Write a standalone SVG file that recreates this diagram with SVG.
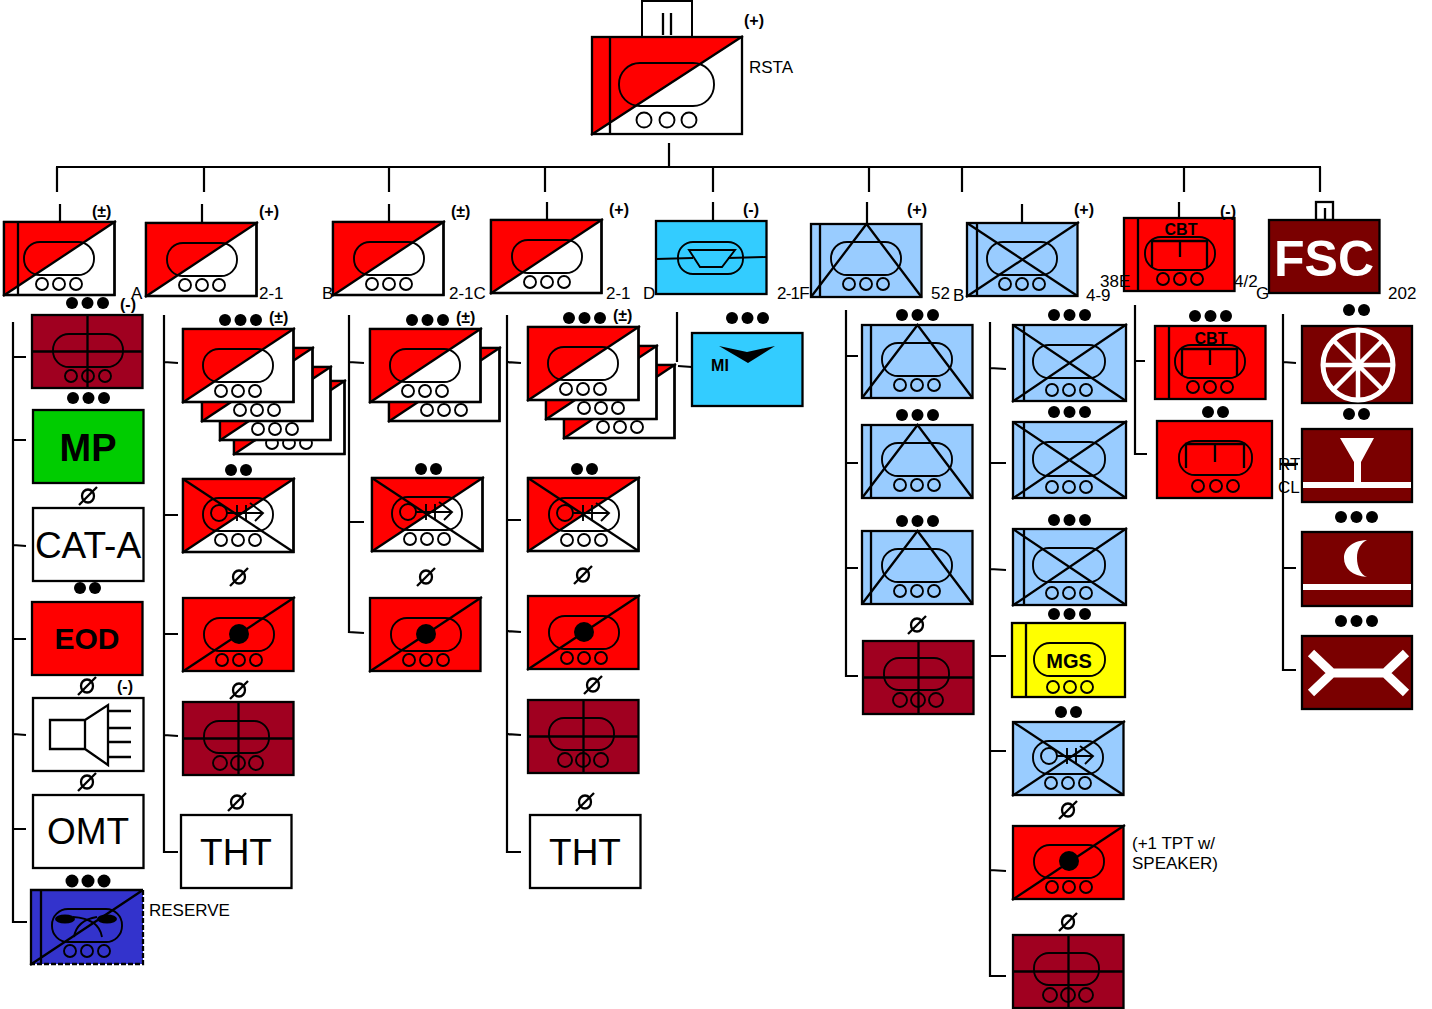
<svg xmlns="http://www.w3.org/2000/svg" width="1432" height="1009" viewBox="0 0 1432 1009">
<style>
text{font-family:"Liberation Sans",Arial,sans-serif;fill:#000}
.l{font-size:17px}
.m{font-size:16px;font-weight:bold}
.big{font-size:37px;text-anchor:middle}
.b{font-weight:bold;text-anchor:middle}
#con line,#con path{stroke:#000;stroke-width:2.200;fill:none}
.s{stroke:#000;stroke-width:2.300;fill:none}
.t{stroke:#000;stroke-width:1.900;fill:none}
.w{stroke:#fff;fill:none}
</style>
<defs>
<rect id="b" width="110.500" height="73" stroke="#000" stroke-width="2.300"/>
<line id="dg" class="s" x1="-1" y1="74" x2="112" y2="-1"/>
<line id="dg2" class="s" x1="0" y1="0" x2="110.500" y2="73"/>
<g id="rd"><use href="#b" fill="#fff"/><polygon points="0,73 0,0 110.500,0" fill="#f00"/><use href="#b" fill="none"/><use href="#dg"/></g>
<g id="rx"><use href="#rd"/><use href="#dg2"/></g>
<g id="rs"><use href="#b" fill="#f00"/><use href="#dg"/></g>
<g id="mt"><use href="#b" fill="#a00020"/><path class="s" d="M55.500,0V73M0,36.500H110.500"/></g>
<g id="lb"><use href="#b" fill="#9cf"/></g>
<g id="tr"><rect class="t" width="70" height="33" rx="16"/></g>
<g id="wh"><circle class="t" cx="18" cy="42" r="6"/><circle class="t" cx="35" cy="42" r="6"/><circle class="t" cx="52" cy="42" r="6"/></g>
<g id="tw"><use href="#tr"/><use href="#wh"/></g>
<g id="tb"><rect class="t" width="65" height="32" rx="15"/><circle class="t" cx="16" cy="42" r="7"/><circle class="t" cx="34" cy="42" r="7"/><circle class="t" cx="52" cy="42" r="7"/></g>
<g id="sc"><use href="#tw"/><circle class="t" cx="16" cy="15" r="8"/><path class="t" d="M24,15H59M34,7V23M43,7V23M47,5L60,15L52,23"/></g>
<g id="dot"><use href="#tw"/><circle cx="35" cy="16" r="10"/></g>
<g id="d3"><circle r="6"/><circle cx="15.500" r="6"/><circle cx="31" r="6"/></g>
<g id="d2"><circle r="6"/><circle cx="15" r="6"/></g>
<g id="n"><ellipse class="s" rx="6" ry="6.500"/><line class="s" x1="-9" y1="9" x2="9" y2="-9"/></g>
<g id="cb"><use href="#tw"/><path class="s" d="M7,31V4H62V31M35,4V20"/></g>
<g id="xl"><use href="#lb"/><use href="#dg"/><use href="#dg2"/></g>
<g id="tri"><use href="#lb"/><path class="s" d="M0,73L55.500,0L110.500,73"/></g>
<g id="xt"><rect class="s" width="113" height="76" style="fill:#9cf"/><path class="s" d="M-1,77L114,-1M0,0L113,76M11,0V76"/></g>
</defs>

<g id="con">
<line x1="669" y1="143" x2="669" y2="167"/>
<line x1="56" y1="167" x2="1321" y2="167"/>
<path d="M57,167V192M204,167V192M389,167V192M545,167V192M713,167V192M869,167V192M962,167V192M1184,167V192M1320,167V192"/>
<path d="M60,204V221M202,204V222M389,204V221M547,202V219M713,202V220M867,202V224M1022,204V222M1179,202V218"/>
<path d="M13,322V922H27M13,357H26M13,440H26M13,545L26,546M13,639H26M13,734L26,735M13,829H26"/>
<path d="M164,315V852H178M164,362L178,363M164,515H178M164,634H178M164,735L178,736"/>
<path d="M349,315V632L364,633M349,362L364,363M349,522H364"/>
<path d="M507,315V852H521M507,362L521,363M507,520H521M507,631L521,632M507,734L521,735"/>
<path d="M677,312V362M678,366L692,367"/>
<path d="M846,310V676H858M846,356H858M846,463H858M846,568H858"/>
<path d="M990,322V976H1006M990,368L1006,369M990,463H1006M990,569L1006,570M990,656H1006M990,751H1006M990,870L1006,871"/>
<path d="M1135,305V454H1147M1135,361H1145"/>
<path d="M1283,314V670H1296M1283,362L1296,363M1283,465H1296M1283,568H1296"/>
</g>

<g id="node-rsta">
<rect x="642" y="1" width="50" height="36" fill="#fff" stroke="#000" stroke-width="2"/>
<path class="s" d="M663,13V35M671,13V35"/>
<rect x="592" y="37" width="150" height="97" fill="#fff"/>
<polygon points="592,134 592,37 742,37" fill="#f00"/>
<rect class="s" x="592" y="37" width="150" height="97"/>
<path class="s" d="M591,135L743,36M610,37V134"/>
<rect class="t" x="619" y="63" width="95" height="43" rx="21"/>
<circle class="t" cx="644" cy="120" r="7.500"/><circle class="t" cx="667" cy="120" r="7.500"/><circle class="t" cx="689" cy="120" r="7.500"/>
<text class="m" x="744" y="26">(+)</text>
<text class="l" x="749" y="73">RSTA</text>
</g>

<g id="node-a">
<use href="#rd" x="4" y="222"/><line class="s" x1="18" y1="222" x2="18" y2="295"/>
<use href="#tw" x="24" y="242"/>
<text class="m" x="92" y="217">(±)</text>
<text class="l" x="131" y="299">A</text>
</g>
<g id="node-21a">
<use href="#rd" x="146" y="223"/><use href="#tw" x="167" y="243"/>
<text class="m" x="259" y="217">(+)</text>
<text class="l" x="259" y="299">2-1</text>
</g>
<g id="node-b">
<use href="#rd" x="333" y="222"/><use href="#tw" x="354" y="242"/>
<text class="m" x="451" y="217">(±)</text>
<text class="l" x="322" y="299">B</text>
<text class="l" x="449" y="299">2-1C</text>
</g>
<g id="node-21c">
<use href="#rd" x="491" y="220"/><use href="#tw" x="512" y="240"/>
<text class="m" x="609" y="215">(+)</text>
<text class="l" x="606" y="299">2-1</text>
<text class="l" x="643" y="299">D</text>
</g>
<g id="node-d">
<use href="#b" x="656" y="221" fill="#3cf"/>
<rect class="t" x="678" y="242" width="65" height="32" rx="15"/>
<path class="t" d="M656,259L693,258M728,258L766,257"/>
<polygon class="t" points="689,250 735,250 722,267 700,267"/>
<text class="m" x="743" y="215">(-)</text>
<text class="l" x="777" y="299" letter-spacing="-0.800">2-1F</text>
</g>
<g id="node-e">
<use href="#tri" x="811" y="224"/><line class="s" x1="820" y1="224" x2="820" y2="297"/>
<use href="#tw" x="831" y="242"/>
<text class="m" x="907" y="215">(+)</text>
<text class="l" x="931" y="299">52</text>
<text class="l" x="953" y="301">B</text>
</g>
<g id="node-f">
<use href="#xl" x="967" y="223"/><line class="s" x1="977" y1="223" x2="977" y2="296"/>
<use href="#tw" x="987" y="242"/>
<text class="m" x="1074" y="215">(+)</text>
<text class="l" x="1086" y="301">4-9</text>
</g>
<g id="node-g">
<use href="#b" x="1124" y="218" fill="#f00"/><line class="s" x1="1138" y1="218" x2="1138" y2="291"/>
<use href="#cb" x="1145" y="237"/>
<text class="b" x="1181" y="235" font-size="16">CBT</text>
<text class="m" x="1220" y="217">(-)</text>
<text class="l" x="1100" y="287">38E</text>
<text class="l" x="1234" y="287">4/2</text>
<text class="l" x="1256" y="299">G</text>
</g>
<g id="node-fsc">
<rect class="s" x="1316" y="202" width="17" height="18"/><line class="s" x1="1325" y1="208" x2="1325" y2="219"/>
<use href="#b" x="1269" y="220" fill="#7a0000"/>
<text class="b" x="1324" y="276" font-size="50" style="fill:#fff">FSC</text>
<text class="l" x="1388" y="299">202</text>
</g>

<g id="col-a">
<g id="a-maint"><use href="#mt" x="32" y="315"/><use href="#tw" x="53" y="334"/><use href="#d3" x="72" y="303"/><text class="m" x="120" y="310">(-)</text></g>
<g id="a-mp"><use href="#b" x="33" y="410" fill="#0c0"/><text class="b" x="88" y="461" font-size="38">MP</text><use href="#d3" x="73" y="398"/></g>
<g id="a-cat"><use href="#b" x="33" y="508" fill="#fff"/><text class="big" x="88" y="558">CAT-A</text><use href="#n" x="88" y="496"/></g>
<g id="a-eod"><use href="#b" x="32" y="602" fill="#f00"/><text class="b" x="87" y="649" font-size="30">EOD</text><use href="#d2" x="80" y="588"/></g>
<g id="a-spk"><use href="#b" x="33" y="698" fill="#fff"/><path class="s" d="M50,720H85V749H50ZM85,720L108,705V765L85,749M108,711H131M108,728H131M108,742H131M108,757H131"/><use href="#n" x="87" y="686"/><text class="m" x="117" y="692">(-)</text></g>
<g id="a-omt"><use href="#b" x="33" y="795" fill="#fff"/><text class="big" x="88" y="844">OMT</text><use href="#n" x="87" y="782"/></g>
<g id="a-res"><rect x="31" y="890" width="112" height="74" fill="#33c"/><path class="s" d="M31,964V890H143M41,890V964M30,965L143,890"/><path class="s" stroke-dasharray="5 2" d="M143,890V964H31"/>
<use href="#tw" x="52" y="909"/><ellipse cx="65" cy="919" rx="10" ry="4.500"/><ellipse cx="107" cy="919" rx="10" ry="4.500"/><path class="t" d="M73,917C90,918 100,925 102,937M97,917C84,919 76,925 74,937"/>
<circle cx="72" cy="881" r="6.500"/><circle cx="88" cy="881" r="6.500"/><circle cx="104" cy="881" r="6.500"/>
<text class="l" x="149" y="916">RESERVE</text></g>
</g>

<g id="col-21a">
<g id="s1-stack">
<use href="#rd" x="234" y="381"/><use href="#tw" x="254" y="401"/>
<use href="#rd" x="220" y="367"/><use href="#tw" x="240" y="387"/>
<use href="#rd" x="202" y="348"/><use href="#tw" x="222" y="368"/>
<use href="#rd" x="183" y="329"/><use href="#tw" x="203" y="349"/>
<use href="#d3" x="225" y="320"/><text class="m" x="269" y="323">(±)</text></g>
<g id="s1-scout"><use href="#rx" x="183" y="479"/><use href="#sc" x="203" y="498"/><use href="#d2" x="231" y="470"/></g>
<g id="s1-mort"><use href="#n" x="239" y="577"/><use href="#rs" x="183" y="598"/><use href="#dot" x="204" y="618"/></g>
<g id="s1-maint"><use href="#n" x="239" y="690"/><use href="#mt" x="183" y="702"/><use href="#tb" x="204" y="721"/></g>
<g id="s1-tht"><use href="#n" x="237" y="802"/><use href="#b" x="181" y="815" fill="#fff"/><text class="big" x="236" y="865">THT</text></g>
</g>

<g id="col-b">
<g id="s2-stack">
<use href="#rd" x="389" y="348"/><use href="#tw" x="409" y="368"/>
<use href="#rd" x="370" y="329"/><use href="#tw" x="390" y="349"/>
<use href="#d3" x="412" y="320"/><text class="m" x="456" y="323">(±)</text></g>
<g id="s2-scout"><use href="#rx" x="372" y="478"/><use href="#sc" x="392" y="497"/><use href="#d2" x="421" y="469"/></g>
<g id="s2-mort"><use href="#n" x="426" y="577"/><use href="#rs" x="370" y="598"/><use href="#dot" x="391" y="618"/></g>
</g>

<g id="col-21c">
<g id="s3-stack">
<use href="#rd" x="564" y="365"/><use href="#tw" x="585" y="385"/>
<use href="#rd" x="546" y="346"/><use href="#tw" x="566" y="366"/>
<use href="#rd" x="528" y="327"/><use href="#tw" x="548" y="347"/>
<use href="#d3" x="569" y="318"/><text class="m" x="613" y="321">(±)</text></g>
<g id="s3-scout"><use href="#rx" x="528" y="478"/><use href="#sc" x="549" y="498"/><use href="#d2" x="577" y="469"/></g>
<g id="s3-mort"><use href="#n" x="583" y="575"/><use href="#rs" x="528" y="596"/><use href="#dot" x="549" y="616"/></g>
<g id="s3-maint"><use href="#n" x="593" y="685"/><use href="#mt" x="528" y="700"/><use href="#tb" x="549" y="718"/></g>
<g id="s3-tht"><use href="#n" x="585" y="802"/><use href="#b" x="530" y="815" fill="#fff"/><text class="big" x="585" y="865">THT</text></g>
</g>

<g id="node-mi">
<use href="#b" x="692" y="333" fill="#3cf"/>
<polygon points="719,346 747,352 775,346 748,363"/>
<text class="b" x="720" y="371" font-size="16">MI</text>
<use href="#d3" x="732" y="318"/>
</g>

<g id="col-e">
<g id="e1"><use href="#tri" x="862" y="325"/><line class="s" x1="871" y1="325" x2="871" y2="398"/><use href="#tw" x="882" y="343"/><use href="#d3" x="902" y="315"/></g>
<g id="e2"><use href="#tri" x="862" y="425"/><line class="s" x1="871" y1="425" x2="871" y2="498"/><use href="#tw" x="882" y="443"/><use href="#d3" x="902" y="415"/></g>
<g id="e3"><use href="#tri" x="862" y="531"/><line class="s" x1="871" y1="531" x2="871" y2="604"/><use href="#tw" x="882" y="549"/><use href="#d3" x="902" y="521"/></g>
<g id="e4"><use href="#n" x="917" y="625"/><use href="#mt" x="863" y="641"/><use href="#tb" x="884" y="658"/></g>
</g>

<g id="col-f">
<g id="f1"><use href="#xt" x="1013" y="325"/><rect class="t" x="1033" y="345" width="72" height="33" rx="16"/><use href="#wh" x="1034" y="348"/><use href="#d3" x="1054" y="315"/></g>
<g id="f2"><use href="#xt" x="1013" y="422"/><rect class="t" x="1033" y="442" width="72" height="34" rx="16"/><use href="#wh" x="1034" y="445"/><use href="#d3" x="1054" y="412"/></g>
<g id="f3"><use href="#xt" x="1013" y="529"/><rect class="t" x="1033" y="548" width="72" height="34" rx="16"/><use href="#wh" x="1034" y="551"/><use href="#d3" x="1054" y="520"/></g>
<g id="f4"><rect class="s" x="1012" y="623" width="113" height="74" style="fill:#ff0"/><line class="s" x1="1026" y1="623" x2="1026" y2="697"/><rect class="t" x="1034" y="643" width="71" height="33" rx="16"/><use href="#wh" x="1035" y="645"/><text class="b" x="1069" y="668" font-size="20">MGS</text><use href="#d3" x="1054" y="614"/></g>
<g id="f5"><use href="#xl" x="1013" y="722"/><use href="#sc" x="1033" y="741"/><use href="#d2" x="1061" y="712"/></g>
<g id="f6"><use href="#n" x="1068" y="810"/><use href="#rs" x="1013" y="826"/><use href="#dot" x="1034" y="845"/>
<text class="l" x="1132" y="849">(+1 TPT w/</text><text class="l" x="1132" y="869">SPEAKER)</text></g>
<g id="f7"><use href="#n" x="1068" y="922"/><use href="#mt" x="1013" y="935"/><use href="#tb" x="1034" y="953"/></g>
</g>

<g id="col-g">
<g id="g1"><use href="#b" x="1155" y="326" fill="#f00"/><line class="s" x1="1169" y1="326" x2="1169" y2="399"/><use href="#cb" x="1175" y="345"/><text class="b" x="1211" y="344" font-size="16">CBT</text><use href="#d3" x="1195" y="316"/></g>
<g id="g2"><rect class="s" x="1157" y="421" width="115" height="77" style="fill:#f00"/>
<rect class="t" x="1179" y="441" width="73" height="34" rx="16"/><path class="s" d="M1186,468V444H1244V468M1215,444V462"/>
<circle class="t" cx="1198" cy="486" r="6"/><circle class="t" cx="1216" cy="486" r="6"/><circle class="t" cx="1233" cy="486" r="6"/>
<use href="#d2" x="1208" y="412"/>
<text class="l" x="1278" y="470">RT</text><text class="l" x="1278" y="493">CLI</text><line class="s" x1="1280" y1="464" x2="1298" y2="464"/></g>
</g>

<g id="col-fsc">
<g id="h1"><rect class="s" x="1302" y="326" width="110" height="77" style="fill:#7a0000"/><circle class="w" stroke-width="5" cx="1358" cy="365" r="35"/><path class="w" stroke-width="4.500" d="M1358,330V400M1323,365H1393M1333,340L1383,390M1383,340L1333,390"/><use href="#d2" x="1349" y="310"/></g>
<g id="h2"><use href="#d2" x="1349" y="414"/><rect class="s" x="1302" y="429" width="110" height="73" style="fill:#7a0000"/><polygon points="1340,438 1374,438 1361,462 1361,483 1354,483 1354,462" fill="#fff"/><rect x="1303" y="482" width="108" height="6" fill="#fff"/></g>
<g id="h3"><use href="#d3" x="1341" y="517"/><rect class="s" x="1302" y="532" width="110" height="74" style="fill:#7a0000"/><path fill="#fff" d="M1367,540C1350,541 1344,550 1344,558C1344,568 1352,576 1367,577C1361,575 1357,567 1357,558C1357,549 1361,543 1367,540Z"/><rect x="1303" y="584" width="108" height="6" fill="#fff"/></g>
<g id="h4"><use href="#d3" x="1341" y="621"/><rect class="s" x="1302" y="636" width="110" height="73" style="fill:#7a0000"/><path class="w" stroke-width="9" d="M1330,673H1385M1311,653L1332,673L1311,693M1406,653L1385,673L1406,693"/></g>
</g>
</svg>
